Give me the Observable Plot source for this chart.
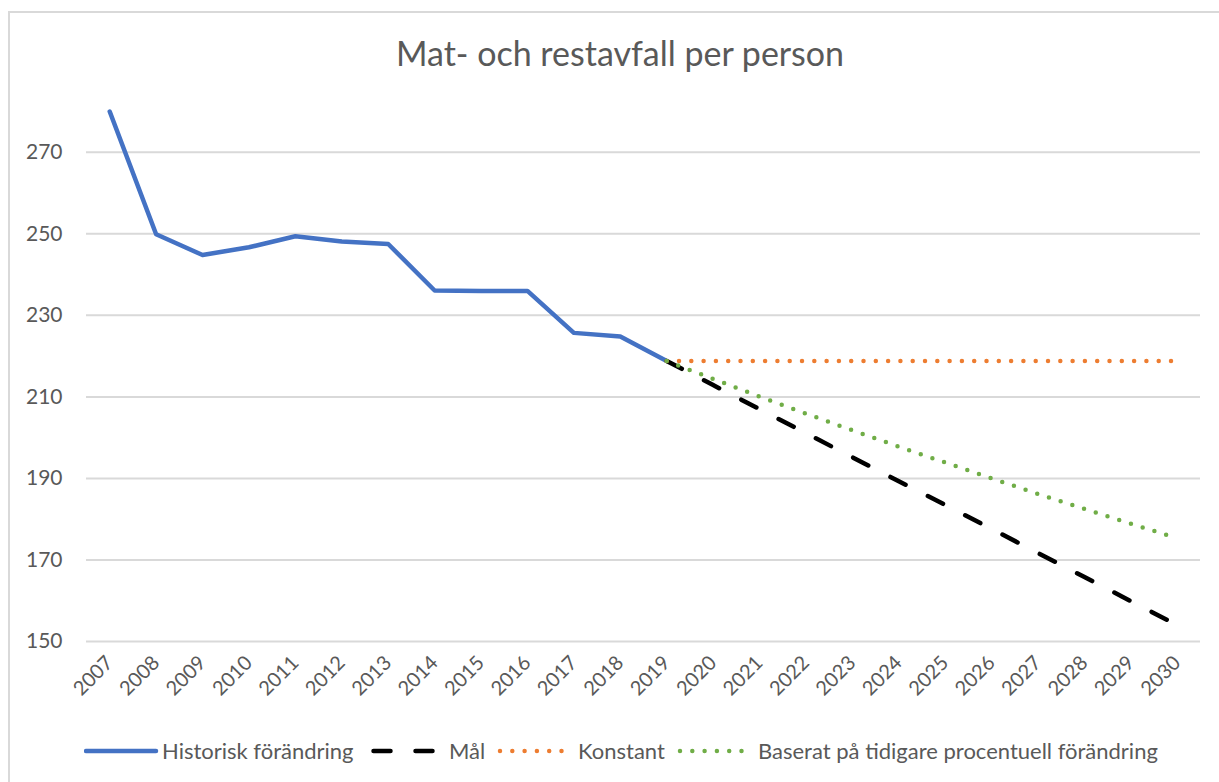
<!DOCTYPE html>
<html><head><meta charset="utf-8">
<script src="https://cdn.jsdelivr.net/npm/d3@7"></script>
<script src="https://cdn.jsdelivr.net/npm/@observablehq/plot@0.6"></script>
<style>
html,body{margin:0;padding:0;background:#fff;overflow:hidden;width:1219px;height:782px;font-family:Lato,"Open Sans",sans-serif;color:#595959;}
#frame{position:absolute;left:8px;top:11px;width:1400px;height:1000px;border:2px solid #d9d9d9;box-sizing:border-box;}
#title{position:absolute;left:0;top:33px;width:1240px;text-align:center;font-size:34px;line-height:40px;color:#595959;}
#chart{position:absolute;left:0;top:90px;}
#legend{position:absolute;left:0;top:735px;width:1219px;height:32px;font-size:22px;color:#595959;white-space:nowrap;}
#legend .sw{position:absolute;top:10px;}
#legend .lab{position:absolute;top:0;line-height:32px;}
</style>
</head><body>
<div id="frame"></div>
<div id="title">Mat- och restavfall per person</div>
<div id="chart"></div>
<div id="legend"></div>
<script>
const years = ["2007","2008","2009","2010","2011","2012","2013","2014","2015","2016","2017","2018","2019","2020","2021","2022","2023","2024","2025","2026","2027","2028","2029","2030"];
const historiskYears = years.slice(0, 13);
const prognosYears = years.slice(12);
const historisk = [280, 249.9, 244.8, 246.7, 249.4, 248.1, 247.5, 236.1, 236.0, 236.0, 225.7, 224.8, 218.8];
const mal = [218.8, 212.9, 207.0, 201.1, 195.2, 189.3, 183.5, 177.6, 171.7, 165.8, 159.9, 154.0];
const konstant = [218.8, 218.8, 218.8, 218.8, 218.8, 218.8, 218.8, 218.8, 218.8, 218.8, 218.8, 218.8];
const baserat = [218.8, 214.4, 210.1, 205.9, 201.8, 197.8, 193.9, 190.0, 186.2, 182.5, 178.9, 175.3];
const yTicks = [150, 170, 190, 210, 230, 250, 270];

const series = [
  {name: "Historisk förändring", years: historiskYears, values: historisk, stroke: "#4472C4", dash: null},
  {name: "Mål", years: prognosYears, values: mal, stroke: "#000000", dash: "17,25"},
  {name: "Konstant", years: prognosYears, values: konstant, stroke: "#ED7D31", dash: "0,12.3"},
  {name: "Baserat på tidigare procentuell förändring", years: prognosYears, values: baserat, stroke: "#70AD47", dash: "0,12.3"}
];
// legend layout: swatch left, line start/end within swatch, label left
const legendLayout = [
  {sw: 84, x1: 2, x2: 72, lab: 162},
  {sw: 367, x1: 6.5, x2: 72, lab: 449},
  {sw: 497, x1: 3, x2: 69, lab: 578},
  {sw: 677, x1: 3, x2: 69, lab: 758}
];

const marks = [
  Plot.gridY(yTicks, {stroke: "#d9d9d9", strokeOpacity: 1, strokeWidth: 2}),
  Plot.axisY(yTicks, {tickSize: 0, tickPadding: 24, fontSize: 21, label: null, fill: "#595959"}),
  Plot.axisX(years, {tickSize: 0, tickPadding: 18, tickRotate: -45, fontSize: 20, label: null, fill: "#595959"})
];
for (const s of series) {
  const data = s.years.map((y, i) => ({year: y, value: s.values[i]}));
  marks.push(Plot.lineY(data, {
    x: "year", y: "value", stroke: s.stroke, strokeWidth: 4.5,
    strokeDasharray: s.dash || undefined, strokeLinecap: "round", strokeLinejoin: "round"
  }));
}

const plot = Plot.plot({
  width: 1219,
  height: 626,
  marginTop: 21,
  marginBottom: 75,
  marginLeft: 86,
  marginRight: 19,
  style: {fontFamily: "Lato, 'Open Sans', sans-serif", color: "#595959", background: "transparent"},
  x: {type: "point", domain: years, padding: 0.5, round: false, axis: null},
  y: {domain: [150, 280], axis: null},
  marks
});
document.getElementById("chart").appendChild(plot);

const legend = document.getElementById("legend");
const ns = "http://www.w3.org/2000/svg";
series.forEach((s, i) => {
  const L = legendLayout[i];
  const svg = document.createElementNS(ns, "svg");
  svg.setAttribute("class", "sw");
  svg.setAttribute("width", 76);
  svg.setAttribute("height", 12);
  svg.style.left = L.sw + "px";
  const line = document.createElementNS(ns, "line");
  line.setAttribute("x1", L.x1);
  line.setAttribute("x2", L.x2);
  line.setAttribute("y1", 6);
  line.setAttribute("y2", 6);
  line.setAttribute("stroke", s.stroke);
  line.setAttribute("stroke-width", 4.5);
  line.setAttribute("stroke-linecap", "round");
  if (s.dash) line.setAttribute("stroke-dasharray", s.dash);
  svg.appendChild(line);
  legend.appendChild(svg);
  const label = document.createElement("span");
  label.className = "lab";
  label.style.left = L.lab + "px";
  label.textContent = s.name;
  legend.appendChild(label);
});
</script>
</body></html>
